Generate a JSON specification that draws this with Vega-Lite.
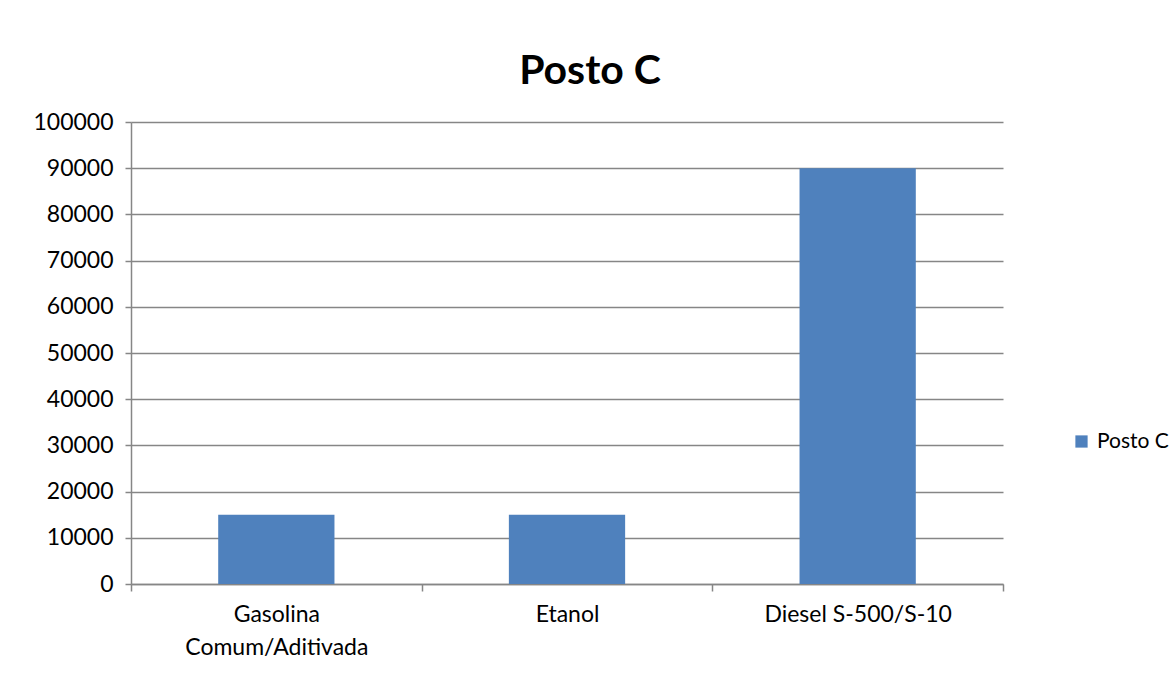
{
  "$schema": "https://vega.github.io/schema/vega-lite/v6.json",
  "autosize": "none",
  "width": 872,
  "height": 462,
  "padding": {"left": 131, "top": 122, "right": 170, "bottom": 93},
  "background": "white",
  "config": {
    "font": "Lato",
    "view": {"stroke": null}
  },
  "title": {
    "text": "Posto C",
    "fontSize": 41,
    "fontWeight": "bold",
    "font": "Lato",
    "color": "black",
    "baseline": "alphabetic",
    "offset": 40,
    "dx": 23,
    "dy": 54
  },
  "data": {
    "values": [
      {"combustivel": "Gasolina Comum/Aditivada", "serie": "Posto C", "valor": 15000},
      {"combustivel": "Etanol", "serie": "Posto C", "valor": 15000},
      {"combustivel": "Diesel S-500/S-10", "serie": "Posto C", "valor": 90000}
    ]
  },
  "mark": {"type": "bar", "width": {"band": 0.4}},
  "encoding": {
    "x": {
      "field": "combustivel",
      "type": "nominal",
      "sort": null,
      "scale": {"paddingInner": 0, "paddingOuter": 0},
      "axis": {
        "title": null,
        "labelAngle": 0,
        "labelFontSize": 23,
        "labelColor": "black",
        "labelFont": "Lato",
        "labelLimit": 0,
        "labelExpr": "datum.label == 'Gasolina Comum/Aditivada' ? ['Gasolina', 'Comum/Aditivada'] : datum.label",
        "labelLineHeight": 33,
        "labelPadding": 12,
        "labelBaseline": "top",
        "tickBand": "extent",
        "tickSize": 7,
        "tickColor": "#868686",
        "domainColor": "#868686",
        "domainWidth": 1.5,
        "tickWidth": 1.5,
        "grid": false
      }
    },
    "y": {
      "field": "valor",
      "type": "quantitative",
      "scale": {"domain": [0, 100000], "nice": false},
      "axis": {
        "title": null,
        "values": [0, 10000, 20000, 30000, 40000, 50000, 60000, 70000, 80000, 90000, 100000],
        "format": "d",
        "labelFontSize": 23,
        "labelColor": "black",
        "labelFont": "Lato",
        "labelPadding": 12,
        "tickSize": 6,
        "tickColor": "#868686",
        "tickWidth": 1.5,
        "domainColor": "#868686",
        "domainWidth": 1.5,
        "grid": true,
        "gridColor": "#868686",
        "gridWidth": 1.5
      }
    },
    "color": {
      "field": "serie",
      "type": "nominal",
      "scale": {"range": ["#4F81BD"]},
      "legend": {
        "title": null,
        "orient": "none",
        "legendX": 940,
        "legendY": 309,
        "symbolType": "square",
        "symbolSize": 150,
        "symbolStrokeWidth": 0,
        "labelFontSize": 21,
        "labelColor": "black",
        "labelFont": "Lato",
        "labelLimit": 0,
        "labelOffset": 5
      }
    }
  }
}
